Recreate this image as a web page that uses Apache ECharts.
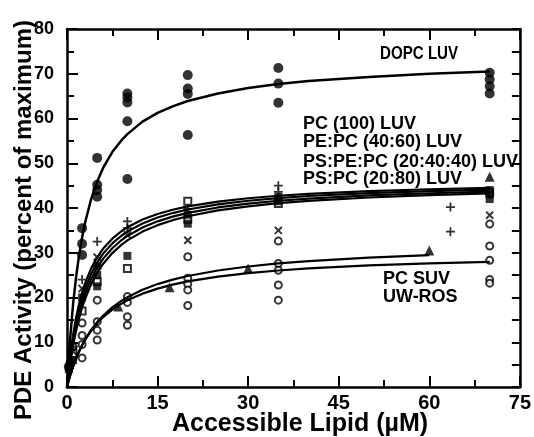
<!DOCTYPE html>
<html><head><meta charset="utf-8">
<script src="https://cdn.jsdelivr.net/npm/echarts@6/dist/echarts.min.js"></script>
<style>html,body{margin:0;padding:0;background:#fff}#c{width:534px;height:437px}</style>
</head><body><div id="c"></div>
<script>
// ---- data ----
const dopcLUV = [[0.3,4.5],[0.6,5.5],[2.5,35.5],[2.5,32],[2.5,29.5],[5,51.2],[5,45.2],[5,44],[5,42.5],
  [10,65.6],[10,64.7],[10,63.6],[10,59.4],[10,46.5],[20,69.7],[20,66.7],[20,65.5],[20,56.3],
  [35,71.3],[35,67.8],[35,63.5],[70,70.2],[70,68.7],[70,67.2],[70,65.6]];
const pc100LUV = [[0.3,4],[0.5,5],[1,6],[2.5,20],[5,27],[5,25],[5,22.5],[10,29.3],[20,38.5],[20,36.5],
  [35,41.5],[35,42.5],[70,44],[70,43],[70,42]];
const pePcLUV = [[1,7.5],[2.5,17],[5,23.5],[10,26.5],[20,41.5],[20,37.5],[35,41],[70,43.5]];
const psPePcLUV = [[1,9],[2.5,24],[5,32.5],[10,37],[10,35.5],[20,39.8],[35,45],[35,43.6],[63.5,40.2],[63.5,34.7]];
const psPcLUV = [[1,8],[2.5,22],[5,29],[10,34],[20,32.8],[35,35],[70,38.4]];
const pcSUV = [[0.5,5],[1,6.8],[1,9],[2.5,6.5],[2.5,9.5],[2.5,11.5],[2.5,14.3],[5,19.4],[5,14.6],[5,12.7],[5,10.5],
  [10,20.2],[10,18.9],[10,15.7],[10,13.8],[20,29.1],[20,24.3],[20,23],[20,21.7],[20,18.2],
  [35,32.6],[35,27.6],[35,26.1],[35,22.8],[35,19.4],[70,36.4],[70,31.5],[70,28.3],[70,24],[70,23.2]];
const uwROS = [[8.5,18],[17,22.3],[30,26.5],[60,30.5],[70,47]];

// fitted curves
const curveX  = [0,0.25,0.5,1,1.5,2,2.5,3,4,5,6,7.5,9,10,12.5,15,17.5,20,25,30,35,40,50,60,70];
const dopcFit = [0,5.65,10.5,18.4,24.5,29.4,33.4,36.75,42.0,45.9,49.0,52.5,55.1,56.5,59.3,61.25,62.7,63.9,65.6,66.8,67.7,68.4,69.3,70.0,70.5];
const luvFit1 = [0,3.57,6.63,11.6,15.47,18.56,21.09,23.2,26.51,29.0,30.93,33.14,34.8,35.69,37.42,38.67,39.61,40.35,41.43,42.18,42.74,43.16,43.77,44.19,44.49];
const luvFit2 = [0,3.25,6.08,10.74,14.44,17.43,19.91,22.0,25.32,27.83,29.81,32.08,33.8,34.74,36.55,37.87,38.87,39.66,40.81,41.62,42.22,42.68,43.34,43.79,44.12];
const luvFit3 = [0,2.98,5.6,9.98,13.5,16.39,18.81,20.86,24.16,26.69,28.69,31.01,32.79,33.75,35.64,37.02,38.07,38.9,40.12,40.98,41.62,42.11,42.82,43.3,43.65];
const luvFit4 = [0,2.72,5.13,9.23,12.58,15.36,17.71,19.73,22.99,25.53,27.56,29.93,31.76,32.76,34.73,36.17,37.28,38.16,39.46,40.38,41.07,41.59,42.35,42.88,43.26];
const suvFit  = [0,1.29,2.48,4.58,6.38,7.95,9.32,10.53,12.58,14.25,15.62,17.29,18.62,19.36,20.86,21.99,22.88,23.59,24.67,25.45,26.03,26.49,27.16,27.62,27.96];
const rosFit  = [0,1.26,2.43,4.51,6.33,7.93,9.34,10.6,12.75,14.51,15.98,17.79,19.24,20.06,21.72,23.0,24.0,24.81,26.04,26.93,27.61,28.14,28.91,29.46];

const labels = [
  {t:'DOPC LUV', x:380, y:54, sx:0.84},
  {t:'PC (100) LUV', x:303, y:124, sx:1},
  {t:'PE:PC (40:60) LUV', x:303, y:142, sx:1},
  {t:'PS:PE:PC (20:40:40) LUV', x:303, y:162, sx:1},
  {t:'PS:PC (20:80) LUV', x:303, y:179, sx:1},
  {t:'PC SUV', x:383, y:279, sx:1},
  {t:'UW-ROS', x:383, y:297, sx:1}
];

const FONT = '"Liberation Sans", Arial, Helvetica, sans-serif';
const plusPath = 'path://M4,0H6V4H10V6H6V10H4V6H0V4H4Z';

function pairs(xs, ys){ return ys.map((v,i)=>[xs[i], v]); }
function line(ys, w){ return {type:'line', data:pairs(curveX, ys), showSymbol:false, smooth:false,
  lineStyle:{color:'#000', width:w, join:'round'}, z:5, silent:true}; }

const axisCommon = {
  axisLine:{onZero:false, lineStyle:{color:'#000', width:2.5}},
  axisTick:{inside:true, length:11, lineStyle:{color:'#000', width:2}},
  minorTick:{show:true, splitNumber:2, length:7, lineStyle:{color:'#000', width:2}},
  splitLine:{show:false}
};

const chart = echarts.init(document.getElementById('c'), null, {renderer:'canvas'});
chart.setOption({
  animation:false,
  backgroundColor:'#fff',
  grid:{left:67, right:11, top:29, bottom:50},
  xAxis:[
    Object.assign({type:'value', min:0, max:75, interval:15, position:'bottom',
      axisLabel:{color:'#000', fontFamily:FONT, fontWeight:'bold', fontSize:20, margin:6}}, axisCommon),
    Object.assign({type:'value', min:0, max:75, interval:15, position:'top', axisLabel:{show:false}}, axisCommon)
  ],
  yAxis:[
    Object.assign({type:'value', min:0, max:80, interval:10, position:'left',
      axisLabel:{color:'#000', fontFamily:FONT, fontWeight:'bold', fontSize:18, margin:13}}, axisCommon),
    Object.assign({type:'value', min:0, max:80, interval:10, position:'right', axisLabel:{show:false}},
      axisCommon, {minorTick:{show:true, splitNumber:2, length:8, lineStyle:{color:'#000', width:2}},
      axisTick:{inside:true, length:8, lineStyle:{color:'#000', width:2}}})
  ],
  series:[
    {type:'scatter', data:pcSUV, symbol:'emptyCircle', symbolSize:7, itemStyle:{color:'#000', borderColor:'#000', borderWidth:2}, z:3},
    {type:'scatter', data:pePcLUV, symbol:'emptyRect', symbolSize:7, itemStyle:{color:'#000', borderColor:'#000', borderWidth:2}, z:3},
    {type:'scatter', data:pc100LUV, symbol:'rect', symbolSize:8, itemStyle:{color:'#000'}, z:3},
    {type:'scatter', data:psPePcLUV, symbol:plusPath, symbolSize:9, itemStyle:{color:'#000'}, z:3},
    {type:'scatter', data:psPcLUV, symbol:plusPath, symbolRotate:45, symbolSize:10, itemStyle:{color:'#000'}, z:3},
    {type:'scatter', data:uwROS, symbol:'triangle', symbolSize:10, itemStyle:{color:'#000'}, z:3},
    {type:'scatter', data:dopcLUV, symbol:'circle', symbolSize:10, itemStyle:{color:'#000'}, z:3},
    line(dopcFit, 2.5),
    line(luvFit1, 2.2),
    line(luvFit2, 2.2),
    line(luvFit3, 2.2),
    line(luvFit4, 2.2),
    line(suvFit, 2.2),
    {type:'line', data:pairs(curveX, rosFit), showSymbol:false, smooth:false,
      lineStyle:{color:'#000', width:2.2, join:'round'}, z:5, silent:true}
  ],
  graphic: labels.map(l => ({type:'text', x:l.x, y:l.y, scaleX:l.sx, z:10,
      style:{text:l.t, font:'bold 18px ' + FONT, fill:'#000', align:'left', verticalAlign:'middle'}}))
    .concat([
      {type:'text', x:24, y:220, rotation:Math.PI/2, z:10,
        style:{text:'PDE Activity (percent of maximum)', font:'bold 24px ' + FONT, fill:'#000', align:'center', verticalAlign:'middle'}},
      {type:'text', x:300, y:424, z:10,
        style:{text:'Accessible Lipid (\u00B5M)', font:'bold 25px ' + FONT, fill:'#000', align:'center', verticalAlign:'middle'}}
    ])
});
</script></body></html>
